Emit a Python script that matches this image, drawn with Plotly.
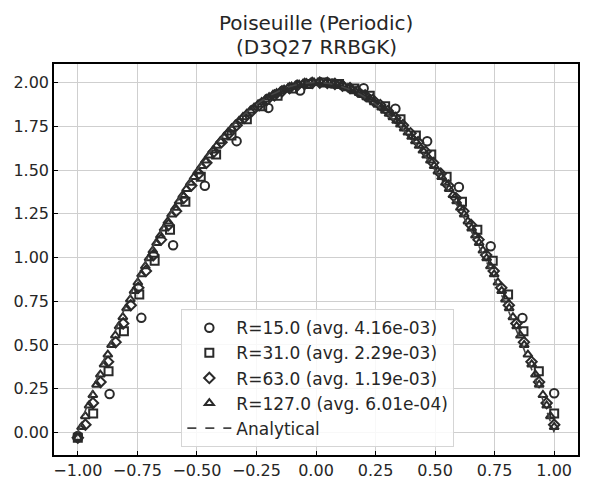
import numpy as np
import plotly.graph_objects as go

# ---------------- data ----------------
resolutions = [15, 31, 63, 127]
legend_labels = [
    "R=15.0 (avg. 4.16e-03)",
    "R=31.0 (avg. 2.29e-03)",
    "R=63.0 (avg. 1.19e-03)",
    "R=127.0 (avg. 6.01e-04)",
]

u_r15 = [-0.02, 0.22, 0.655, 1.07, 1.41, 1.665, 1.855, 1.955, 1.995, 1.968,
         1.85, 1.664, 1.403, 1.064, 0.654, 0.224]

u_r31 = [-0.03, 0.108, 0.35, 0.578, 0.789, 0.982, 1.159, 1.319, 1.461, 1.588,
         1.697, 1.79, 1.865, 1.924, 1.966, 1.992, 2.0, 1.992, 1.966, 1.924,
         1.865, 1.79, 1.697, 1.588, 1.461, 1.319, 1.159, 0.982, 0.789, 0.578,
         0.35, 0.108]

u_r63 = [-0.03, 0.044, 0.168, 0.288, 0.404, 0.516, 0.623, 0.727, 0.827, 0.923,
         1.014, 1.102, 1.186, 1.265, 1.340, 1.411, 1.479, 1.541, 1.605, 1.659,
         1.710, 1.756, 1.798, 1.837, 1.871, 1.901, 1.927, 1.950, 1.968, 1.982,
         1.992, 1.998, 2.000, 1.998, 1.992, 1.982, 1.968, 1.950, 1.927, 1.901,
         1.871, 1.837, 1.798, 1.756, 1.710, 1.659, 1.605, 1.541, 1.479, 1.411,
         1.340, 1.265, 1.186, 1.102, 1.014, 0.923, 0.827, 0.727, 0.623, 0.516,
         0.404, 0.288, 0.168, 0.044]

u_r127 = [-0.03,
          0.031, 0.093, 0.154, 0.214, 0.273, 0.331, 0.389, 0.445, 0.500, 0.554,
          0.607, 0.659, 0.710, 0.760, 0.809, 0.857, 0.904, 0.950, 0.996, 1.040,
          1.083, 1.125, 1.166, 1.206, 1.246, 1.284, 1.321, 1.357, 1.392, 1.427,
          1.460, 1.492, 1.523, 1.554, 1.583, 1.611, 1.638, 1.665, 1.690, 1.714,
          1.738, 1.760, 1.781, 1.802, 1.821, 1.839, 1.857, 1.873, 1.888, 1.903,
          1.916, 1.929, 1.940, 1.950, 1.960, 1.968, 1.976, 1.982, 1.988, 1.992,
          1.996, 1.998, 2.000,
          2.000,
          2.000, 1.998, 1.996, 1.992, 1.988, 1.982, 1.976, 1.968, 1.960, 1.950,
          1.940, 1.929, 1.916, 1.903, 1.888, 1.873, 1.857, 1.839, 1.821, 1.802,
          1.781, 1.760, 1.738, 1.714, 1.690, 1.665, 1.638, 1.611, 1.583, 1.554,
          1.523, 1.492, 1.460, 1.427, 1.392, 1.357, 1.321, 1.284, 1.246, 1.206,
          1.166, 1.125, 1.083, 1.040, 0.996, 0.950, 0.904, 0.857, 0.809, 0.760,
          0.710, 0.659, 0.607, 0.554, 0.500, 0.445, 0.389, 0.331, 0.273, 0.214,
          0.154, 0.093, 0.031]

x_analytic = [-1.0, -0.95, -0.9, -0.85, -0.8, -0.75, -0.7, -0.65, -0.6, -0.55,
              -0.5, -0.45, -0.4, -0.35, -0.3, -0.25, -0.2, -0.15, -0.1, -0.05,
              0.0, 0.05, 0.1, 0.15, 0.2, 0.25, 0.3, 0.35, 0.4, 0.45, 0.5, 0.55,
              0.6, 0.65, 0.7, 0.75, 0.8, 0.85, 0.9, 0.95, 1.0]
u_analytic = [0.0, 0.195, 0.38, 0.555, 0.72, 0.875, 1.02, 1.155, 1.28, 1.395,
              1.5, 1.595, 1.68, 1.755, 1.82, 1.875, 1.92, 1.955, 1.98, 1.995,
              2.0, 1.995, 1.98, 1.955, 1.92, 1.875, 1.82, 1.755, 1.68, 1.595,
              1.5, 1.395, 1.28, 1.155, 1.02, 0.875, 0.72, 0.555, 0.38, 0.195, 0.0]

tick_vals_x = [-1.0, -0.75, -0.5, -0.25, 0.0, 0.25, 0.5, 0.75, 1.0]
tick_vals_y = [0.0, 0.25, 0.5, 0.75, 1.0, 1.25, 1.5, 1.75, 2.0]

title_lines = ["Poiseuille (Periodic)", "(D3Q27 RRBGK)"]

series_values = [u_r15, u_r31, u_r63, u_r127]
symbols = ["circle-open", "square-open", "diamond-open", "triangle-up-open"]
sizes = [8.5, 8, 8, 8]

EDGE = "#2a2a2a"
FONT = "DejaVu Sans"
TXT = "#262626"

fig = go.Figure()
for R, vals, sym, sz, lab in zip(resolutions, series_values, symbols, sizes, legend_labels):
    xs = np.linspace(-1.0, 1.0, R + 1)
    fig.add_trace(go.Scatter(
        x=xs, y=vals, mode="markers", name=lab,
        marker=dict(symbol=sym, size=sz, color=EDGE, line=dict(width=2, color=EDGE)),
        legendgroup=lab,
    ))

fig.add_trace(go.Scatter(
    x=x_analytic, y=u_analytic, mode="lines", name="Analytical",
    line=dict(color="#444444", width=1.6, dash="dash", shape="spline"),
    legendgroup="Analytical",
))

axis_common = dict(
    showline=True, linecolor="black", linewidth=1.5, mirror=True,
    ticks="inside", ticklen=4, tickwidth=1, tickcolor="black",
    showgrid=True, gridcolor="#cfcfcf", gridwidth=1,
    zeroline=False, tickformat=".2f",
    tickfont=dict(family=FONT, size=16, color=TXT),
)

# plot area: top at 64 px, height 393 px
plot_top, plot_h = 64, 393
for line_text, y_px in zip(title_lines, [23, 47]):
    fig.add_annotation(
        text=line_text, xref="paper", yref="paper",
        x=0.5, y=1 + (plot_top - y_px) / plot_h,
        xanchor="center", yanchor="middle", showarrow=False,
        font=dict(family=FONT, size=20, color=TXT),
    )

fig.update_layout(
    width=590, height=490,
    margin=dict(l=54, r=10, t=64, b=33),
    paper_bgcolor="white", plot_bgcolor="white",
    xaxis=dict(range=[-1.1, 1.1], tickvals=tick_vals_x, **axis_common),
    yaxis=dict(range=[-0.129, 2.106], tickvals=tick_vals_y, **axis_common),
    legend=dict(
        x=0.243, y=0.02, xanchor="left", yanchor="bottom",
        bgcolor="rgba(255,255,255,0.85)", bordercolor="#d5d5d5", borderwidth=1,
        font=dict(family=FONT, size=17, color=TXT),
        traceorder="grouped", tracegroupgap=0,
        itemwidth=44,
    ),
    showlegend=True,
)

fig.write_html("out.html")
